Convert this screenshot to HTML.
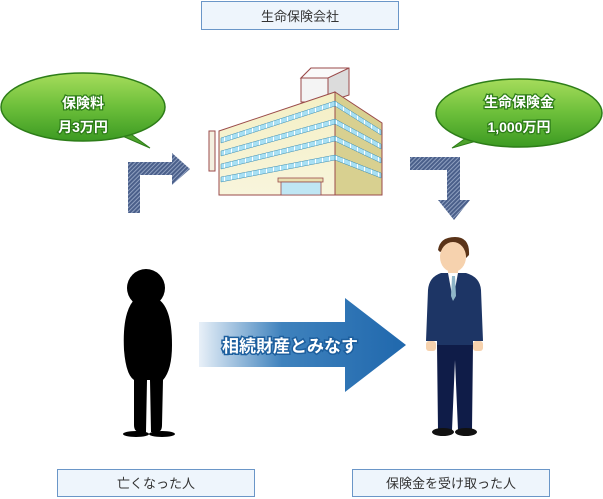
<!DOCTYPE html>
<html><head><meta charset="utf-8"><style>
html,body{margin:0;padding:0;background:#fff;}
svg{display:block;}
text{font-family:"Liberation Sans","Noto Sans CJK JP",sans-serif;}
</style></head><body>
<svg width="603" height="499" viewBox="0 0 603 499" xmlns="http://www.w3.org/2000/svg">
<defs>
<pattern id="hatch" width="3" height="3" patternUnits="userSpaceOnUse" patternTransform="rotate(45)">
<rect width="3" height="3" fill="#4a5f8a"/><rect width="1" height="3" fill="#8fa0c0"/>
</pattern>
<linearGradient id="green" x1="0" y1="0" x2="0" y2="1">
<stop offset="0" stop-color="#a6dc5c"/><stop offset="0.5" stop-color="#6cbf3a"/><stop offset="1" stop-color="#3c9a22"/>
</linearGradient>
<linearGradient id="bigarrow" x1="0" y1="0" x2="1" y2="0">
<stop offset="0" stop-color="#e8f0f8"/><stop offset="0.4" stop-color="#3f82bd"/><stop offset="1" stop-color="#2068ad"/>
</linearGradient>
<linearGradient id="bldg" x1="0" y1="0" x2="0" y2="1">
<stop offset="0" stop-color="#f4efc4"/><stop offset="1" stop-color="#f8f5dc"/>
</linearGradient>
<pattern id="win" width="7" height="10" patternUnits="userSpaceOnUse">
<rect width="7" height="10" fill="#a8e0f4"/><rect width="1" height="10" fill="#fff"/>
</pattern>
</defs>

<rect x="201.5" y="1.5" width="197" height="28" fill="#eef5fc" stroke="#6a96c8"/>
<text x="300" y="21" font-size="13" text-anchor="middle" fill="#333">生命保険会社</text>

<path d="M120,135 L150,148 L128,132 Z" fill="#4ea32c" stroke="#2d7d18"/>
<ellipse cx="83" cy="107" rx="82" ry="34" fill="url(#green)" stroke="#2d7d18" stroke-width="1.5"/>
<text x="83" y="108" font-size="14" font-weight="bold" text-anchor="middle" fill="#fff" stroke="#2d7d18" stroke-width="2.5" paint-order="stroke">保険料</text>
<text x="83" y="132" font-size="14" font-weight="bold" text-anchor="middle" fill="#fff" stroke="#2d7d18" stroke-width="2.5" paint-order="stroke">月3万円</text>

<path d="M470,135 L452,148 L480,140 Z" fill="#4ea32c" stroke="#2d7d18"/>
<ellipse cx="519" cy="113" rx="83" ry="34" fill="url(#green)" stroke="#2d7d18" stroke-width="1.5"/>
<text x="519" y="107" font-size="14" font-weight="bold" text-anchor="middle" fill="#fff" stroke="#2d7d18" stroke-width="2.5" paint-order="stroke">生命保険金</text>
<text x="519" y="132" font-size="14" font-weight="bold" text-anchor="middle" fill="#fff" stroke="#2d7d18" stroke-width="2.5" paint-order="stroke">1,000万円</text>

<path d="M128,213 L128,162 L172,162 L172,153 L190,169 L172,185 L172,175 L140,175 L140,213 Z" fill="url(#hatch)"/>
<path d="M410,157 L460,157 L460,200 L470,200 L454,220 L438,200 L447,200 L447,170 L410,170 Z" fill="url(#hatch)"/>

<!-- building -->
<g stroke="#9a4a4a" stroke-width="1">
<rect x="301" y="78" width="27" height="24" fill="#f4f4f4"/>
<path d="M301,78 L311,68 L349,68 L349,95 L328,102 L328,78 Z" fill="#dcdcdc"/>
<path d="M301,78 L311,68 L349,68 L328,78 Z" fill="#fafafa"/>
<path d="M219,131 L335,92 L335,195 L219,195 Z" fill="url(#bldg)"/>
<path d="M335,92 L382,123 L382,195 L335,195 Z" fill="#d8d090"/>
<rect x="209" y="131" width="6" height="40" fill="#f4f0e0"/>
</g>
<g stroke="#3a8ab0" stroke-width="0.5" fill="url(#win)">
<path d="M221,138 L335,101 L335,106 L221,143 Z"/>
<path d="M221,151 L335,119 L335,124 L221,156 Z"/>
<path d="M221,164 L335,136 L335,141 L221,169 Z"/>
<path d="M221,177 L335,155 L335,160 L221,182 Z"/>
<path d="M335,101 L381,130 L381,135 L335,106 Z"/>
<path d="M335,119 L381,144 L381,149 L335,124 Z"/>
<path d="M335,136 L381,158 L381,163 L335,141 Z"/>
<path d="M335,155 L381,173 L381,178 L335,160 Z"/>
</g>
<rect x="278" y="178" width="45" height="4" fill="#e8e0b0" stroke="#9a4a4a" stroke-width="0.8"/>
<rect x="281" y="182" width="40" height="13" fill="#bfe6f4" stroke="#9a4a4a" stroke-width="0.8"/>

<path d="M199,322 L345,322 L345,298 L406,345 L345,392 L345,367 L199,367 Z" fill="url(#bigarrow)"/>
<text x="290" y="352" font-size="17" font-weight="bold" text-anchor="middle" fill="#fff" stroke="#1d5f9e" stroke-width="3" paint-order="stroke">相続財産とみなす</text>

<!-- silhouette -->
<g fill="#000">
<ellipse cx="146" cy="288" rx="19" ry="19"/>
<path d="M136,298 Q122,310 124,350 Q126,375 134,380 L134,425 Q134,432 140,432 L146,432 L147,380 L150,380 L151,432 L157,432 Q162,432 162,425 L163,380 Q172,370 172,345 Q172,305 156,298 Z"/>
<ellipse cx="136" cy="434" rx="13" ry="3"/>
<ellipse cx="162" cy="434" rx="13" ry="3"/>
</g>

<!-- businessman -->
<g>
<path d="M438,250 Q440,237 455,237 Q470,237 469,255 L466,258 Q465,248 452,247 L440,252 Z" fill="#5a3318"/>
<ellipse cx="453" cy="257" rx="13" ry="15" fill="#f6d2ae"/>
<rect x="448" y="268" width="10" height="8" fill="#f6d2ae"/>
<rect x="426" y="341" width="10" height="10" rx="3" fill="#f6d2ae"/>
<rect x="473" y="341" width="10" height="10" rx="3" fill="#f6d2ae"/>
<path d="M441,273 L466,273 Q480,277 481,290 L483,341 L473,341 L473,345 L437,345 L437,341 L426,341 L428,290 Q429,277 441,273 Z" fill="#1d3565"/>
<path d="M448,273 L458,273 L453,300 Z" fill="#fff"/>
<path d="M452,276 L455,276 L456,296 L453,301 L451,296 Z" fill="#8fb6c8"/>
<path d="M437,345 L473,345 L472,430 L458,430 L455,360 L452,430 L438,430 Z" fill="#0f1c48"/>
<ellipse cx="443" cy="432" rx="11" ry="4" fill="#111"/>
<ellipse cx="466" cy="432" rx="11" ry="4" fill="#111"/>
</g>

<rect x="57.5" y="469.5" width="197" height="27" fill="#eef5fc" stroke="#6a96c8"/>
<text x="156" y="488" font-size="13" text-anchor="middle" fill="#333">亡くなった人</text>
<rect x="352.5" y="469.5" width="197" height="27" fill="#eef5fc" stroke="#6a96c8"/>
<text x="451" y="488" font-size="13" text-anchor="middle" fill="#333">保険金を受け取った人</text>
</svg>
</body></html>
